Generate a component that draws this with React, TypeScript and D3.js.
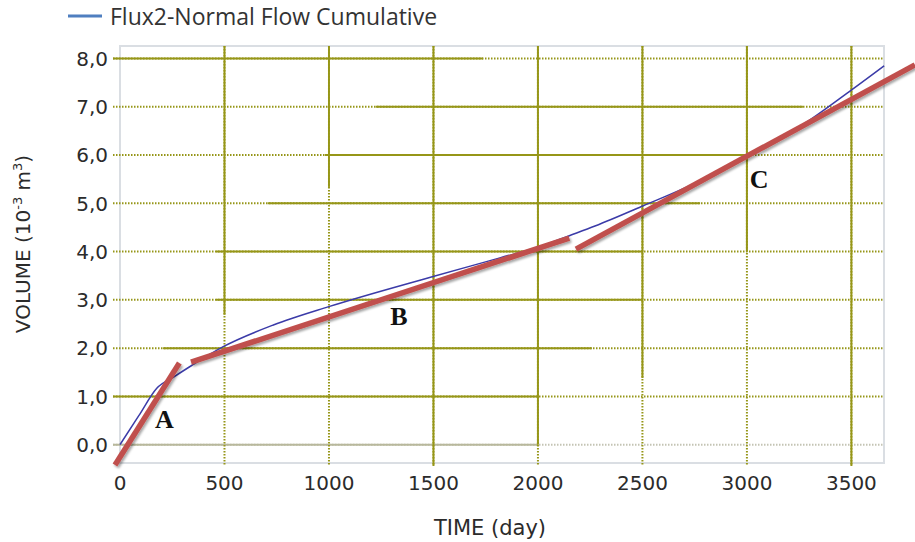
import React, { useEffect, useRef } from "react";
import * as d3 from "d3";

// Flux2 - normal flow cumulative volume vs time
const timeDays = [0, 90, 176, 260, 343, 494, 734, 999, 1494, 1818, 2007, 2150, 2273, 2504, 2752, 3001, 3250, 3501, 3657];
const volumes = [0, 0.6, 1.17, 1.41, 1.64, 2.03, 2.48, 2.86, 3.48, 3.87, 4.1, 4.33, 4.53, 4.95, 5.42, 6.0, 6.58, 7.35, 7.85];

const xTicks = [0, 500, 1000, 1500, 2000, 2500, 3000, 3500];
const yTicks = [0, 1, 2, 3, 4, 5, 6, 7, 8];

// hand drawn trend segments A, B, C (time, volume)
const trendNames = ["A", "B", "C"];
const trendStart = [[-24, -0.42], [340, 1.71], [2182, 4.05]];
const trendEnd = [[284, 1.69], [2150, 4.28], [3804, 7.87]];
const labelAt = [[212, 0.35], [1335, 2.48], [3059, 5.31]];

// where each grid line is solid, the rest is dotted (null = from the axis / full length)
const hSolidFrom = [null, null, 206, 459, 459, 707, 981, 1224, null];
const hSolidTo = [2000, 2000, 2258, 2503, 2503, 2776, 3005, 3268, 1737];
const vSolidDown = [null, 2.69, 5.34, null, 0, 1.38, 4.0, null];

const App = () => {
  const ref = useRef<SVGSVGElement>(null);

  useEffect(() => {
    const width = 915;
    const height = 542;
    const svg = d3.select(ref.current);
    svg.selectAll("*").remove();
    svg.attr("width", width).attr("height", height);

    const left = 120, right = 884, top = 46, bottom = 463;
    const x = d3.scaleLinear().domain([0, 3656]).range([left, right]);
    const y = d3.scaleLinear().domain([-0.38, 8.26]).range([bottom, top]);

    const olive = "#969618";
    const tickFont = "DejaVu Sans";

    const defs = svg.append("defs");
    const f = defs.append("filter").attr("id", "shadow").attr("x", "-20%").attr("y", "-20%").attr("width", "140%").attr("height", "140%");
    f.append("feDropShadow").attr("dx", 1.5).attr("dy", 2).attr("stdDeviation", 1.2).attr("flood-color", "#000").attr("flood-opacity", 0.35);

    // legend
    svg.append("line").attr("x1", 68).attr("x2", 102).attr("y1", 16).attr("y2", 16)
      .attr("stroke", "#4f7fc0").attr("stroke-width", 3);
    svg.append("text").attr("x", 110).attr("y", 25)
      .attr("font-family", "Open Sans").attr("font-size", 23).attr("fill", "#333")
      .text("Flux2-Normal Flow Cumulative");

    // frame
    svg.append("rect").attr("x", left).attr("y", top).attr("width", right - left).attr("height", bottom - top)
      .attr("fill", "#fff").attr("stroke", "#dadee3").attr("stroke-width", 2);

    const g = svg.append("g");

    // horizontal grid
    yTicks.forEach((v, i) => {
      const col = v === 0 ? "#b8b89c" : olive;
      const dotCol = v === 0 ? "#c4c4b4" : olive;
      g.append("line").attr("x1", left - 7).attr("x2", right).attr("y1", y(v)).attr("y2", y(v))
        .attr("stroke", dotCol).attr("stroke-width", 2).attr("stroke-dasharray", "1.5 1.5");
      const from = hSolidFrom[i] === null ? left - 7 : x(hSolidFrom[i] as number);
      g.append("line").attr("x1", from).attr("x2", x(hSolidTo[i])).attr("y1", y(v)).attr("y2", y(v))
        .attr("stroke", col).attr("stroke-width", 2);
    });

    // vertical grid
    xTicks.forEach((t, i) => {
      if (t === 0) return;
      g.append("line").attr("x1", x(t)).attr("x2", x(t)).attr("y1", top).attr("y2", bottom + 3)
        .attr("stroke", olive).attr("stroke-width", 2).attr("stroke-dasharray", "1.5 1.5");
      const down = vSolidDown[i] === null ? bottom + 3 : y(vSolidDown[i] as number);
      g.append("line").attr("x1", x(t)).attr("x2", x(t)).attr("y1", top).attr("y2", down)
        .attr("stroke", olive).attr("stroke-width", 2);
    });

    // tick labels
    const fmt = (v: number) => d3.format(".1f")(v).replace(".", ",");
    svg.append("g").selectAll("text").data(yTicks).enter().append("text")
      .attr("x", 108).attr("y", d => y(d)).attr("dy", "0.36em")
      .attr("text-anchor", "end").attr("font-family", tickFont).attr("font-size", 20).attr("fill", "#2b2b2b")
      .text(d => fmt(d));
    svg.append("g").selectAll("text").data(xTicks).enter().append("text")
      .attr("x", d => x(d)).attr("y", 490)
      .attr("text-anchor", "middle").attr("font-family", tickFont).attr("font-size", 20).attr("fill", "#2b2b2b")
      .text(d => String(d));

    // axis titles
    svg.append("text").attr("x", 490).attr("y", 535).attr("text-anchor", "middle")
      .attr("font-family", tickFont).attr("font-size", 21).attr("fill", "#2b2b2b").text("TIME (day)");
    const yt = svg.append("text").attr("transform", "translate(30,244) rotate(-90)").attr("text-anchor", "middle")
      .attr("font-family", tickFont).attr("font-size", 20).attr("fill", "#2b2b2b");
    yt.append("tspan").text("VOLUME  (10");
    yt.append("tspan").attr("font-size", 13).attr("dy", -8).text("-3");
    yt.append("tspan").attr("dy", 8).text(" m");
    yt.append("tspan").attr("font-size", 13).attr("dy", -8).text("3");
    yt.append("tspan").attr("dy", 8).text(")");

    // data curve
    const pts = timeDays.map((t, i) => [t, volumes[i]] as [number, number]);
    const line = d3.line<[number, number]>().x(d => x(d[0])).y(d => y(d[1])).curve(d3.curveMonotoneX);
    svg.append("path").attr("d", line(pts) as string).attr("fill", "none")
      .attr("stroke", "#3b3ba8").attr("stroke-width", 1.5);

    // trend segments
    trendNames.forEach((n, i) => {
      svg.append("line")
        .attr("x1", x(trendStart[i][0])).attr("y1", y(trendStart[i][1]))
        .attr("x2", x(trendEnd[i][0])).attr("y2", y(trendEnd[i][1]))
        .attr("stroke", "#c0504d").attr("stroke-width", 5.5).attr("filter", "url(#shadow)");
      svg.append("text").attr("x", x(labelAt[i][0])).attr("y", y(labelAt[i][1]))
        .attr("text-anchor", "middle").attr("font-family", "Liberation Serif").attr("font-weight", "bold")
        .attr("font-size", 26).attr("fill", "#111").text(n);
    });
  }, []);

  return <svg ref={ref} style={{ position: "absolute", left: 0, top: 0 }}></svg>;
};

export default App;
